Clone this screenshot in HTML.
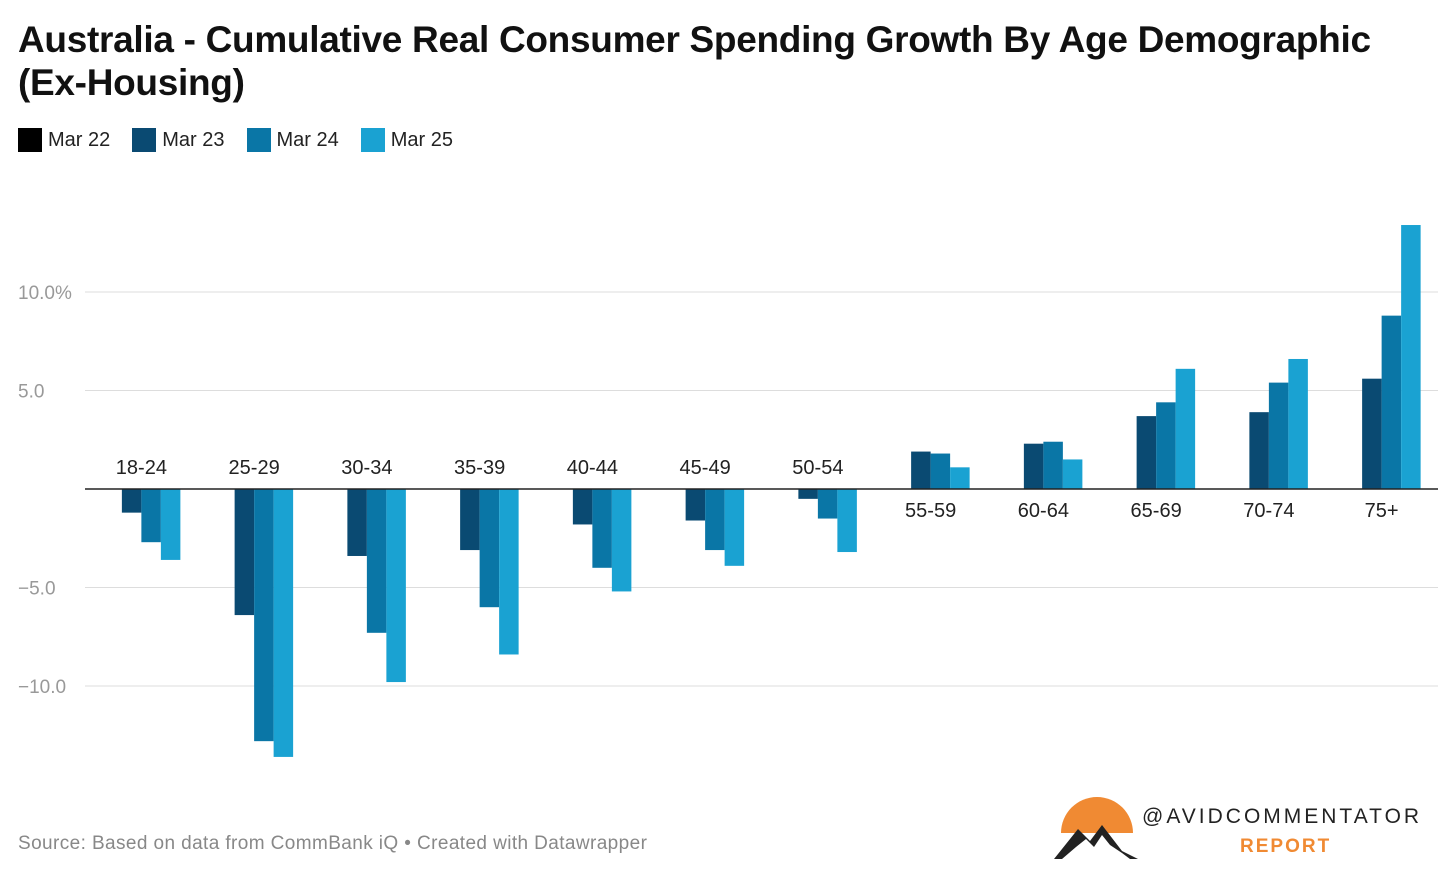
<!DOCTYPE html>
<html><head><meta charset="utf-8">
<style>
body{margin:0;background:#fff;width:1456px;height:874px;overflow:hidden;font-family:"Liberation Sans",sans-serif;}
h1{position:absolute;left:18px;top:18px;margin:0;font-size:37px;line-height:43px;font-weight:bold;color:#111;letter-spacing:-0.3px;width:1420px}
.legend{position:absolute;left:18px;top:128px;font-size:20px;color:#222;display:flex;gap:22px}
.legend span{display:flex;align-items:center}
.legend i{display:inline-block;width:24px;height:24px;margin-right:6px}
.src{position:absolute;left:18px;top:833px;font-size:19px;color:#888;letter-spacing:0.4px}
</style></head><body>
<h1>Australia - Cumulative Real Consumer Spending Growth By Age Demographic (Ex-Housing)</h1>
<div class="legend">
<span><i style="background:#000"></i>Mar 22</span>
<span><i style="background:#0a4a72"></i>Mar 23</span>
<span><i style="background:#0a76a6"></i>Mar 24</span>
<span><i style="background:#1aa2d2"></i>Mar 25</span>
</div>
<svg id="chart" width="1456" height="874" style="position:absolute;left:0;top:0"></svg>
<div class="src">Source: Based on data from CommBank iQ • Created with Datawrapper</div>
<svg width="400" height="90" style="position:absolute;left:1050px;top:795px">
<circle cx="47" cy="38" r="36" fill="#f08a33"/>
<rect x="0" y="38" width="100" height="50" fill="#fff"/>
<polygon points="4,64 28,34 40,46 52,30 72,56 88,64 80,64 72,58 60,50 52,40 44,52 36,44 26,52 12,64" fill="#222"/>
<text x="92" y="28" font-size="21" letter-spacing="3" font-family="Liberation Sans" fill="#222">@AVIDCOMMENTATOR</text>
<text x="190" y="57" font-size="19" letter-spacing="2" font-weight="bold" font-family="Liberation Sans" fill="#f08a33">REPORT</text>
</svg>
<script>
const categories=["18-24","25-29","30-34","35-39","40-44","45-49","50-54","55-59","60-64","65-69","70-74","75+"];
const mar22=[0,0,0,0,0,0,0,0,0,0,0,0];
const mar23=[-1.2,-6.4,-3.4,-3.1,-1.8,-1.6,-0.5,1.9,2.3,3.7,3.9,5.6];
const mar24=[-2.7,-12.8,-7.3,-6.0,-4.0,-3.1,-1.5,1.8,2.4,4.4,5.4,8.8];
const mar25=[-3.6,-13.6,-9.8,-8.4,-5.2,-3.9,-3.2,1.1,1.5,6.1,6.6,13.4];
const ticks=[10,5,-5,-10];
const tickLabels=["10.0%","5.0","\u22125.0","\u221210.0"];
const series=[mar22,mar23,mar24,mar25];
const colors=["#000","#0a4a72","#0a76a6","#1aa2d2"];
const NS="http://www.w3.org/2000/svg";
const svg=document.getElementById('chart');
const x0=85,x1=1438,y0=489,k=19.7;
const y=v=>y0-v*k;
const gw=(x1-x0)/categories.length,bw=19.5;
function mk(t,a){const e=document.createElementNS(NS,t);for(const n in a)e.setAttribute(n,a[n]);svg.appendChild(e);return e;}
ticks.forEach((t,i)=>{
 const l=mk('line',{x1:x0,x2:x1,y1:y(t),y2:y(t),stroke:'#ddd','stroke-width':1});
 
 
 const tx=mk('text',{x:18,y:y(t)+7,'font-size':19,fill:'#999','font-family':'Liberation Sans'});
 tx.textContent=tickLabels[i];
 
 
});
categories.forEach((c,i)=>{
 const gx=x0+i*gw+gw/2-2*bw;
 series.forEach((s,j)=>{
  const v=s[i];
  const r=mk('rect',{x:gx+j*bw,y:Math.min(y(v),y0),width:bw,height:Math.abs(v*k),fill:colors[j]});
  
  
 });
 const neg=mar25[i]<0;
 const t=mk('text',{x:x0+i*gw+gw/2,y:neg?y0-15:y0+28,'font-size':20,fill:'#222','text-anchor':'middle','font-family':'Liberation Sans'});
 t.textContent=c;
 
 
});
const z=mk('line',{x1:x0,x2:x1,y1:y0,y2:y0,stroke:'#222','stroke-width':1.5});


</script>
</body></html>
